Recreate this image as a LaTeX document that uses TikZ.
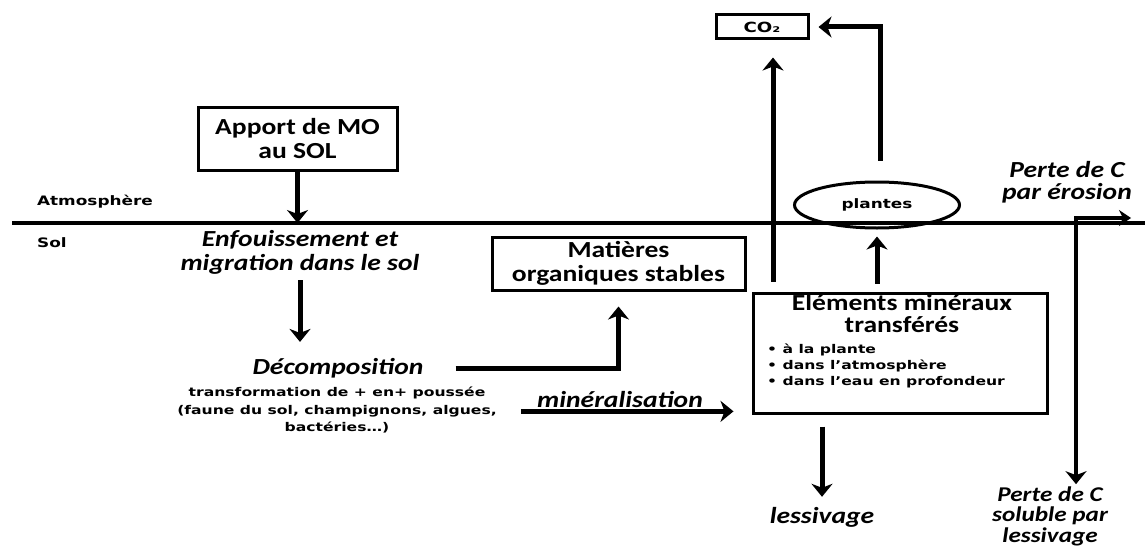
\documentclass[tikz,border=0pt]{standalone}
\usepackage{fontspec}
\setmainfont{Carlito}[FakeStretch=1.2]
\newfontfamily\swfont{DejaVu Sans}[FakeStretch=1.3]
\usetikzlibrary{arrows.meta,shapes.geometric,calc}
\tikzset{
  big/.style={font=\fontsize{23}{24}\selectfont\bfseries, align=center, inner sep=0pt},
  bigit/.style={font=\fontsize{23}{24}\selectfont\bfseries\itshape, align=center, inner sep=0pt},
  tiny/.style={font=\swfont\fontsize{12}{17.5}\selectfont\bfseries, align=center, inner sep=0pt},
  smalllab/.style={font=\swfont\fontsize{13}{15}\selectfont\bfseries, inner sep=0pt},
  boxed/.style={draw, line width=3pt, rectangle, inner sep=0pt},
  arr/.style={line width=5pt, -{Stealth[length=13pt,width=21pt,inset=4pt]}},
  arrboth/.style={line width=4pt, {Stealth[length=12pt,width=16pt,inset=4pt]}-{Stealth[length=13pt,width=21pt,inset=4pt]}},
}
\begin{document}
\begin{tikzpicture}[x=1pt,y=-1pt]
\useasboundingbox (0,0) rectangle (1145,551);
% ground line
\coordinate (gL) at (12,223);
\coordinate (gR) at (1145,223);
\draw[line width=4pt] (gL) -- (gR);
\node[smalllab] (atm) at (95,202) {Atmosphère};
\node[smalllab] (sol) at (52,243) {Sol};
% nodes
\node[boxed, big, minimum width=199pt, minimum height=63pt] (apport) at (297.5,138.5) {Apport de MO\\au SOL};
\node[bigit] (enf) at (300,252) {Enfouissement et\\migration dans le sol};
\node[bigit] (decomp) at (338,368) {Décomposition};
\node[tiny] (sub) at (337,410) {transformation de + en+ poussée\\(faune du sol, champignons, algues,\\bactéries…)};
\node[boxed, big, minimum width=253pt, minimum height=53pt] (mat) at (618.5,263.5) {Matières\\organiques stables};
\node[bigit] (minl) at (620,400) {minéralisation};
\node[boxed, minimum width=294pt, minimum height=120pt] (elem) at (900,353) {};
\node[big, font=\fontsize{23}{22}\selectfont\bfseries] (elemt) at (902,314) {Eléments minéraux\\transférés};
\node[tiny, align=left, anchor=west, font=\swfont\fontsize{12}{16}\selectfont\bfseries] (elemb) at (767,366) {• à la plante\\• dans l’atmosphère\\• dans l’eau en profondeur};
\node[boxed, minimum width=92pt, minimum height=24pt, font=\swfont\fontsize{14}{16}\selectfont\bfseries] (co2) at (762,27) {CO₂};
\node[draw, ellipse, line width=3pt, minimum width=165pt, minimum height=46pt, inner sep=0pt, smalllab] (plantes) at (877,205) {plantes};
\node[bigit] (less) at (822,517) {lessivage};
\node[bigit, font=\fontsize{23}{21.5}\selectfont\bfseries\itshape] (ero) at (1067,182) {Perte de C\\par érosion};
\node[bigit, font=\fontsize{21}{20.5}\selectfont\bfseries\itshape] (solu) at (1050,516) {Perte de C\\soluble par\\lessivage};
% connectors
\draw[arr] (apport.south) -- (apport.south |- gL);
\draw[arr, shorten <=6pt, shorten >=16pt] (enf.south) -- (enf.south |- decomp.north);
\draw[arr, shorten <=32pt, shorten >=15pt] (decomp.east) -| (mat.south);
\draw[arr, shorten >=18pt] ([xshift=-16pt,yshift=-3pt]minl.south west) -- ([yshift=-3pt]minl.south west -| elem.west);
\draw[arr, shorten <=10pt, shorten >=17pt] ([xshift=-127pt]elem.north) -- ([xshift=11pt]co2.south);
\draw[arr, shorten <=8pt, shorten >=7pt] (plantes.south |- elem.north) -- (plantes.south);
\draw[arr, shorten <=20pt, shorten >=9pt] ([xshift=3pt]plantes.north) |- (co2.east);
\draw[arr, shorten <=12pt, shorten >=10pt] (less.north |- elem.south) -- (less.north);
\coordinate (eroTip) at (1131,218);
\coordinate (crn) at (1076,218);
\draw[arrboth, shorten >=2pt] (eroTip) -- (crn) -- (crn |- solu.north);
\end{tikzpicture}
\end{document}
